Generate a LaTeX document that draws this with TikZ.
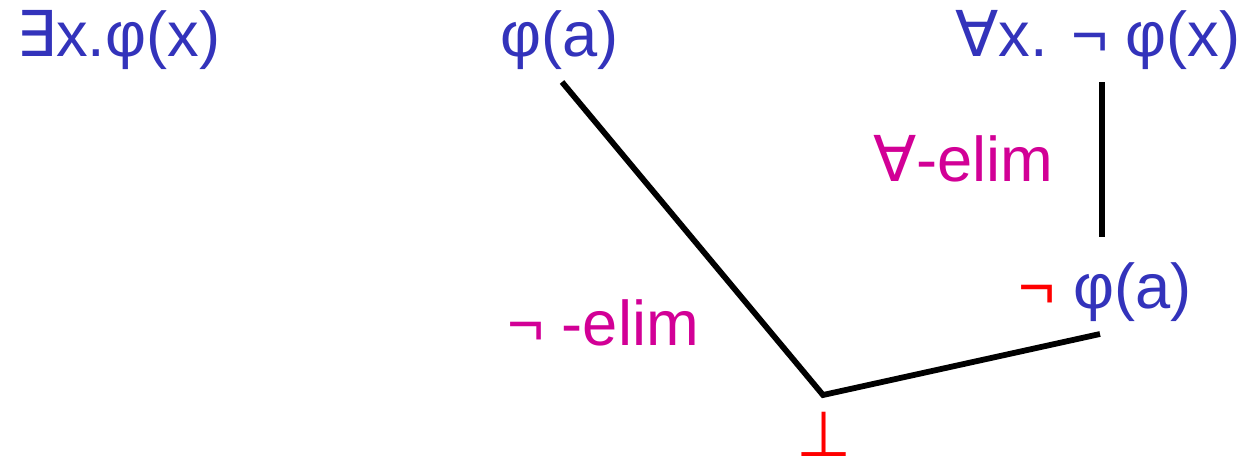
\documentclass[tikz,border=0pt]{standalone}
\usepackage{fontspec}
\setmainfont{Liberation Sans}
\newfontfamily\symfont{DejaVu Sans}
\definecolor{fblue}{RGB}{51,51,187}
\definecolor{fmagenta}{RGB}{210,0,150}
\begin{document}
\begin{tikzpicture}[
    x=0.02cm, y=-0.02cm,
    formula/.style={text=fblue, font=\fontsize{36}{43}\selectfont, inner sep=0pt, anchor=base west},
    rulename/.style={text=fmagenta, font=\fontsize{36}{43}\selectfont, inner sep=0pt, anchor=base west},
    falsum/.style={text=red, font=\fontsize{36}{43}\selectfont, inner sep=0pt, anchor=base west},
    proofline/.style={draw, line width=3.3pt}
]
\useasboundingbox (0,0) rectangle (1252,470);
% formulas
\node[formula] (exists) at (16,56) {{\symfont ∃}x.φ(x)};
\node[formula] (phia) at (500,56) {φ(a)};
\node[formula] (forall) at (955,56) {{\symfont ∀}x. ¬ φ(x)};
\node[formula] (nphia) at (1073,308) {φ(a)};
\node[falsum, anchor=base east] (nsign) at (1056,308) {¬};
\node[falsum, anchor=base] (bot) at (824,456) {{\symfont ⊥}};
% rule names
\node[rulename] (alle) at (873,181) {{\symfont ∀}-elim};
\node[rulename] (nege) at (507,345) {¬ -elim};
% proof lines
\coordinate (vertex) at (823,395);
\coordinate (phiafoot) at (562,82);
\coordinate (forallfoot) at (1102,82);
\coordinate (nphiatop) at (1102,237);
\coordinate (nphiafoot) at (1100,334);
\draw[proofline] (phiafoot) -- (vertex) -- (nphiafoot);
\draw[proofline] (forallfoot) -- (nphiatop);
\end{tikzpicture}
\end{document}
